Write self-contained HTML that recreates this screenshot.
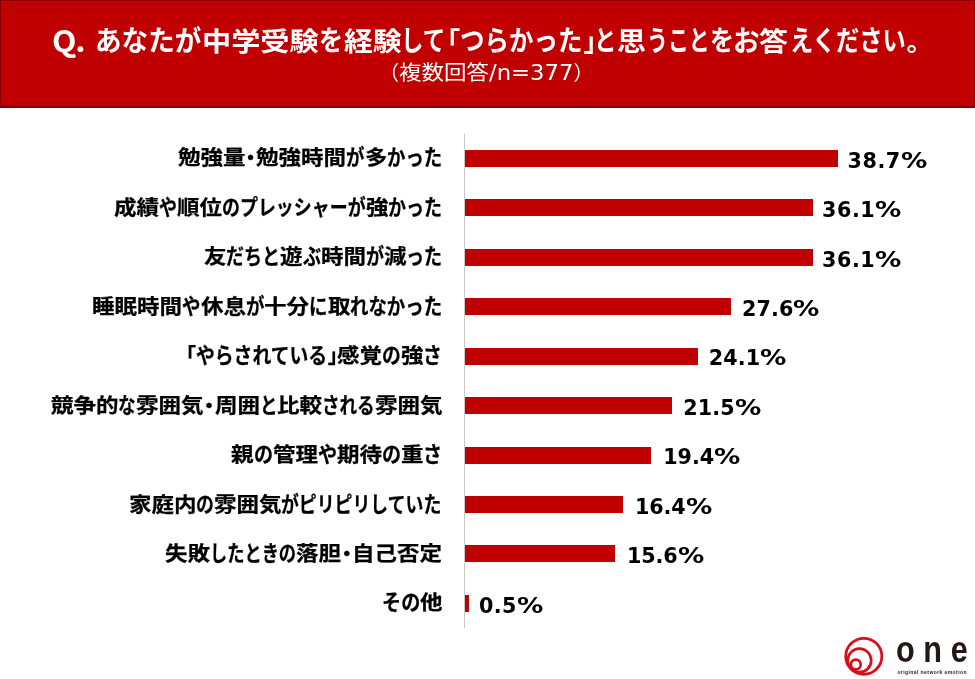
<!DOCTYPE html>
<html lang="ja"><head><meta charset="utf-8"><title>中学受験でつらかったこと</title>
<style>
html,body{margin:0;padding:0;background:#fff}
body{width:975px;height:679px;position:relative;overflow:hidden;font-family:"Liberation Sans","Noto Sans CJK JP",sans-serif}
.hdr{position:absolute;left:0;top:0;width:975px;height:108px;box-sizing:border-box;background:#c00000;border:1.6px solid #8a0000;border-left-width:1px;border-right-width:1px;border-bottom-width:2px}
.r{display:inline-block;white-space:nowrap;vertical-align:baseline}
.r i{display:inline-block;font-style:normal;transform-origin:0 50%;white-space:nowrap}
.title{position:absolute;left:94.5px;top:18.5px;height:40px;line-height:40px;white-space:nowrap;color:#fff;font-weight:bold;font-size:26.5px;font-family:"Noto Sans CJK JP",sans-serif}
.q{position:absolute;left:51.6px;top:18.5px;height:40px;line-height:40px;white-space:nowrap;color:#fff;font-weight:bold;font-size:30px;font-family:"Noto Sans CJK JP","Liberation Sans",sans-serif;transform-origin:0 50%;transform:scaleX(1.06);letter-spacing:-1.2px}
.sub{position:absolute;left:378.5px;top:54.5px;height:34px;line-height:34px;white-space:nowrap;color:#fff;font-size:20.1px;font-family:"Noto Sans CJK JP",sans-serif}
.sub .lat{font-family:"DejaVu Sans","Liberation Sans",sans-serif;font-size:22px}
.axis{position:absolute;left:463.8px;top:133.6px;width:1.2px;height:494.5px;background:#c9c9c9}
.lab{position:absolute;height:36px;line-height:36px;white-space:nowrap;color:#000;-webkit-text-stroke:.25px #000;font-weight:bold;font-size:20.1px;font-family:"Noto Sans CJK JP",sans-serif}
.bar{position:absolute;left:465.0px;height:17.0px;background:#c00000}
.val{position:absolute;height:36px;line-height:36px;white-space:nowrap;color:#000;font-weight:bold;font-size:20.7px;letter-spacing:.5px;font-family:"DejaVu Sans","Liberation Sans",sans-serif}
.val b{display:inline-block;transform-origin:0 50%;transform:scaleX(1.27);letter-spacing:0}
.logo{position:absolute;left:835px;top:619px;width:140px;height:60px}
</style></head><body>
<div class="hdr"></div>
<div class="q">Q.</div>
<div class="title"><span class="r" style="width:106.30px"><i style="font-size:28.09px;transform:scaleX(0.9461)">あなたが</i></span><span class="r" style="margin-left:1.50px;width:116.60px"><i style="transform:scaleX(1.1000)">中学受験</i></span><span class="r" style="margin-left:0.40px;width:24.10px"><i style="font-size:28.09px;transform:scaleX(0.8580)">を</i></span><span class="r" style="margin-left:0.20px;width:57.60px"><i style="transform:scaleX(1.0868)">経験</i></span><span class="r" style="margin-left:0.30px;width:45.00px"><i style="font-size:28.09px;transform:scaleX(0.8010)">して</i></span><span class="r" style="width:13.80px"><i style="margin-left:-12.70px">「</i></span><span class="r" style="width:122.70px"><i style="font-size:28.09px;transform:scaleX(0.8736)">つらかった</i></span><span class="r" style="margin-left:0.30px;width:11.70px"><i>」</i></span><span class="r" style="margin-left:-0.50px;width:22.50px"><i style="font-size:28.09px;transform:scaleX(0.8010)">と</i></span><span class="r" style="margin-left:0.50px;width:29.00px"><i style="transform:scaleX(1.0943)">思</i></span><span class="r" style="margin-left:1.00px;width:62.70px"><i style="font-size:28.09px;transform:scaleX(0.7440)">うこと</i></span><span class="r" style="margin-left:-0.40px;width:24.00px"><i style="font-size:28.09px;transform:scaleX(0.8544)">を</i></span><span class="r" style="margin-left:-0.50px;width:26.70px"><i style="font-size:28.09px;transform:scaleX(0.9505)">お</i></span><span class="r" style="margin-left:-0.50px;width:29.00px"><i style="transform:scaleX(1.0943)">答</i></span><span class="r" style="margin-left:1.50px;width:116.50px"><i style="font-size:28.09px;transform:scaleX(0.8295)">えください</i></span><span class="r" style="width:13.50px"><i>。</i></span></div>
<div class="sub"><span class="r" style="width:20.50px"><i style="margin-left:0.40px">（</i></span><span class="r" style="width:90.00px"><i style="transform:scaleX(1.1194)">複数回答</i></span><span class="r lat" style="width:84.5px"><i style="transform:scaleX(1.0333)">/n=377</i></span><span class="r" style="width:12.00px"><i>）</i></span></div>
<div class="axis"></div>
<div class="lab" style="left:177.5px;top:138.40px"><span class="r" style="width:67.50px"><i style="transform:scaleX(1.1194)">勉強量</i></span><span class="r" style="width:11.20px"><i style="margin-left:-4.45px">・</i></span><span class="r" style="width:90.00px"><i style="transform:scaleX(1.1194)">勉強時間</i></span><span class="r" style="width:18.40px"><i style="font-size:21.31px;transform:scaleX(0.8636)">が</i></span><span class="r" style="width:22.50px"><i style="transform:scaleX(1.1194)">多</i></span><span class="r" style="width:55.20px"><i style="font-size:21.31px;transform:scaleX(0.8636)">かった</i></span></div>
<div class="bar" style="top:149.80px;width:373.0px"></div>
<div class="val" style="left:847.6px;top:142.60px;letter-spacing:0.50px">38.7<b>%</b></div>
<div class="lab" style="left:114.3px;top:187.85px"><span class="r" style="width:45.00px"><i style="transform:scaleX(1.1194)">成績</i></span><span class="r" style="width:17.96px"><i style="font-size:21.31px;transform:scaleX(0.8429)">や</i></span><span class="r" style="width:45.00px"><i style="transform:scaleX(1.1194)">順位</i></span><span class="r" style="width:143.67px"><i style="font-size:21.31px;transform:scaleX(0.8429)">のプレッシャーが</i></span><span class="r" style="width:22.50px"><i style="transform:scaleX(1.1194)">強</i></span><span class="r" style="width:53.88px"><i style="font-size:21.31px;transform:scaleX(0.8429)">かった</i></span></div>
<div class="bar" style="top:199.25px;width:347.5px"></div>
<div class="val" style="left:822.1px;top:192.05px;letter-spacing:0.50px">36.1<b>%</b></div>
<div class="lab" style="left:203.5px;top:237.30px"><span class="r" style="width:22.50px"><i style="transform:scaleX(1.1194)">友</i></span><span class="r" style="width:54.13px"><i style="font-size:21.31px;transform:scaleX(0.8468)">だちと</i></span><span class="r" style="width:22.50px"><i style="transform:scaleX(1.1194)">遊</i></span><span class="r" style="width:18.04px"><i style="font-size:21.31px;transform:scaleX(0.8468)">ぶ</i></span><span class="r" style="width:45.00px"><i style="transform:scaleX(1.1194)">時間</i></span><span class="r" style="width:18.04px"><i style="font-size:21.31px;transform:scaleX(0.8468)">が</i></span><span class="r" style="width:22.50px"><i style="transform:scaleX(1.1194)">減</i></span><span class="r" style="width:36.09px"><i style="font-size:21.31px;transform:scaleX(0.8468)">った</i></span></div>
<div class="bar" style="top:248.70px;width:347.5px"></div>
<div class="val" style="left:822.1px;top:241.50px;letter-spacing:0.50px">36.1<b>%</b></div>
<div class="lab" style="left:92.3px;top:286.75px"><span class="r" style="width:90.00px"><i style="transform:scaleX(1.1194)">睡眠時間</i></span><span class="r" style="width:18.44px"><i style="font-size:21.31px;transform:scaleX(0.8654)">や</i></span><span class="r" style="width:45.00px"><i style="transform:scaleX(1.1194)">休息</i></span><span class="r" style="width:18.44px"><i style="font-size:21.31px;transform:scaleX(0.8654)">が</i></span><span class="r" style="width:45.00px"><i style="transform:scaleX(1.1194)">十分</i></span><span class="r" style="width:18.44px"><i style="font-size:21.31px;transform:scaleX(0.8654)">に</i></span><span class="r" style="width:22.50px"><i style="transform:scaleX(1.1194)">取</i></span><span class="r" style="width:92.19px"><i style="font-size:21.31px;transform:scaleX(0.8654)">れなかった</i></span></div>
<div class="bar" style="top:298.15px;width:265.8px"></div>
<div class="val" style="left:742.0px;top:290.95px;letter-spacing:0.10px">27.6<b>%</b></div>
<div class="lab" style="left:187.5px;top:336.20px"><span class="r" style="width:8.50px"><i style="margin-left:-11.60px">「</i></span><span class="r" style="width:131.68px"><i style="font-size:21.31px;transform:scaleX(0.8829)">やらされている</i></span><span class="r" style="width:9.50px"><i>」</i></span><span class="r" style="width:45.00px"><i style="transform:scaleX(1.1194)">感覚</i></span><span class="r" style="width:18.81px"><i style="font-size:21.31px;transform:scaleX(0.8829)">の</i></span><span class="r" style="width:22.50px"><i style="transform:scaleX(1.1194)">強</i></span><span class="r" style="width:18.81px"><i style="font-size:21.31px;transform:scaleX(0.8829)">さ</i></span></div>
<div class="bar" style="top:347.60px;width:232.5px"></div>
<div class="val" style="left:708.7px;top:340.40px;letter-spacing:0.10px">24.1<b>%</b></div>
<div class="lab" style="left:50.8px;top:385.65px"><span class="r" style="width:67.50px"><i style="transform:scaleX(1.1194)">競争的</i></span><span class="r" style="width:17.56px"><i style="font-size:21.31px;transform:scaleX(0.8242)">な</i></span><span class="r" style="width:67.50px"><i style="transform:scaleX(1.1194)">雰囲気</i></span><span class="r" style="width:11.20px"><i style="margin-left:-4.45px">・</i></span><span class="r" style="width:45.00px"><i style="transform:scaleX(1.1194)">周囲</i></span><span class="r" style="width:17.56px"><i style="font-size:21.31px;transform:scaleX(0.8242)">と</i></span><span class="r" style="width:45.00px"><i style="transform:scaleX(1.1194)">比較</i></span><span class="r" style="width:52.68px"><i style="font-size:21.31px;transform:scaleX(0.8242)">される</i></span><span class="r" style="width:67.50px"><i style="transform:scaleX(1.1194)">雰囲気</i></span></div>
<div class="bar" style="top:397.05px;width:207.0px"></div>
<div class="val" style="left:683.2px;top:389.85px;letter-spacing:0.10px">21.5<b>%</b></div>
<div class="lab" style="left:231.0px;top:435.10px"><span class="r" style="width:22.50px"><i style="transform:scaleX(1.1194)">親</i></span><span class="r" style="width:19.08px"><i style="font-size:21.31px;transform:scaleX(0.8953)">の</i></span><span class="r" style="width:45.00px"><i style="transform:scaleX(1.1194)">管理</i></span><span class="r" style="width:19.08px"><i style="font-size:21.31px;transform:scaleX(0.8953)">や</i></span><span class="r" style="width:45.00px"><i style="transform:scaleX(1.1194)">期待</i></span><span class="r" style="width:19.08px"><i style="font-size:21.31px;transform:scaleX(0.8953)">の</i></span><span class="r" style="width:22.50px"><i style="transform:scaleX(1.1194)">重</i></span><span class="r" style="width:19.08px"><i style="font-size:21.31px;transform:scaleX(0.8953)">さ</i></span></div>
<div class="bar" style="top:446.50px;width:186.3px"></div>
<div class="val" style="left:663.3px;top:439.30px;letter-spacing:-0.10px">19.4<b>%</b></div>
<div class="lab" style="left:128.5px;top:484.55px"><span class="r" style="width:67.50px"><i style="transform:scaleX(1.1194)">家庭内</i></span><span class="r" style="width:17.88px"><i style="font-size:21.31px;transform:scaleX(0.8392)">の</i></span><span class="r" style="width:67.50px"><i style="transform:scaleX(1.1194)">雰囲気</i></span><span class="r" style="width:160.92px"><i style="font-size:21.31px;transform:scaleX(0.8392)">がピリピリしていた</i></span></div>
<div class="bar" style="top:495.95px;width:158.0px"></div>
<div class="val" style="left:635.0px;top:488.75px;letter-spacing:-0.10px">16.4<b>%</b></div>
<div class="lab" style="left:165.0px;top:534.00px"><span class="r" style="width:45.00px"><i style="transform:scaleX(1.1194)">失敗</i></span><span class="r" style="width:86.10px"><i style="font-size:21.31px;transform:scaleX(0.8082)">したときの</i></span><span class="r" style="width:45.00px"><i style="transform:scaleX(1.1194)">落胆</i></span><span class="r" style="width:11.20px"><i style="margin-left:-4.45px">・</i></span><span class="r" style="width:90.00px"><i style="transform:scaleX(1.1194)">自己否定</i></span></div>
<div class="bar" style="top:545.40px;width:150.0px"></div>
<div class="val" style="left:627.0px;top:538.20px;letter-spacing:-0.10px">15.6<b>%</b></div>
<div class="lab" style="left:381.5px;top:583.45px"><span class="r" style="width:38.30px"><i style="font-size:21.31px;transform:scaleX(0.8988)">その</i></span><span class="r" style="width:22.50px"><i style="transform:scaleX(1.1194)">他</i></span></div>
<div class="bar" style="top:594.85px;width:4.1px"></div>
<div class="val" style="left:479.0px;top:587.65px;letter-spacing:0.42px">0.5<b>%</b></div>
<svg class="logo" viewBox="0 0 140 60">
<g fill="none" stroke="#d80e1a">
<circle cx="28.8" cy="37.35" r="18.05" stroke-width="2.8"/>
<circle cx="24.45" cy="41.45" r="11.75" stroke-width="2.7"/>
<circle cx="20.8" cy="45.5" r="4.9" stroke-width="2.6"/>
</g>
<text transform="translate(61.0,43.4) scale(0.84,1)" font-family="Liberation Sans, sans-serif" font-weight="bold" font-size="36.5" letter-spacing="10.3" fill="#231815">one</text>
<text x="62.4" y="54.8" font-family="Liberation Sans, sans-serif" font-weight="bold" font-size="5" letter-spacing="0.42" fill="#2a2220">original network emotion</text>
</svg>
</body></html>
